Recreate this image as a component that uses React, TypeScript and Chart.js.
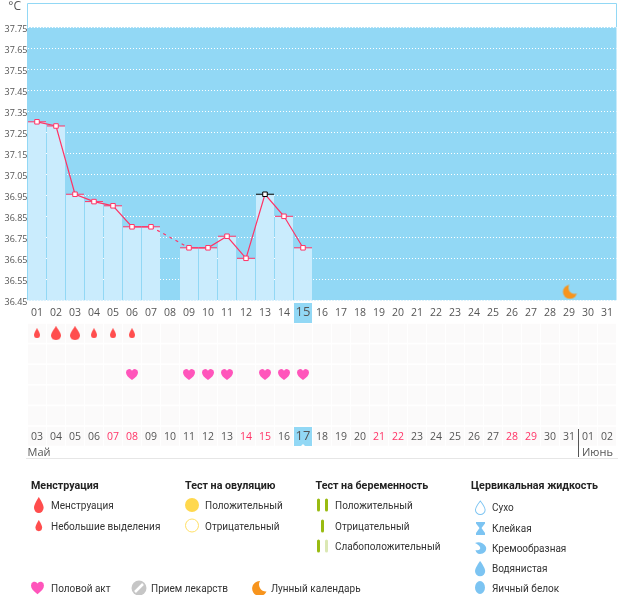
import React, { useEffect, useRef } from "react";
import { Chart, registerables } from "chart.js";

Chart.register(...registerables);

const TOP_DAYS = ["01","02","03","04","05","06","07","08","09","10","11","12","13","14","15","16","17","18","19","20","21","22","23","24","25","26","27","28","29","30","31"];
const BOTTOM_DAYS = ["03","04","05","06","07","08","09","10","11","12","13","14","15","16","17","18","19","20","21","22","23","24","25","26","27","28","29","30","31","01","02"];
const WEEKEND_INDEXES = [4, 5, 11, 12, 18, 19, 25, 26];
const TODAY_INDEX = 14;
const TEMP_TICKS = [37.75,37.65,37.55,37.45,37.35,37.25,37.15,37.05,36.95,36.85,36.75,36.65,36.55,36.45];
const TEMPS: (number | null)[] = [37.3,37.28,36.955,36.92,36.9,36.8,36.8,null,36.7,36.7,36.755,36.65,36.955,36.85,36.7];
const BLACK_MARK_INDEX = 12;
const MOON_INDEX = 28;
const MOON_VALUE = 36.49;
const MENSES_SMALL = [0, 3, 4, 5];
const MENSES_BIG = [1, 2];
const HEARTS = [5, 8, 9, 10, 12, 13, 14];
const ROWS = [4, 3, 2, 1, 0, -1];
const MENSES_ROW = 4.5;
const HEART_ROW = 2.5;
const MONTHS = [{ label: "Май", index: 0 }, { label: "Июнь", index: 29 }];

const TICK_FONT = "'Open Sans'";
const TEXT_FONT = "Roboto";
const GREY = "#555555";
const PINK = "#ff3366";
const BLUE = "#92d8f5";
const DROP = "M6 0C6 0 0 7.2 0 10.5A6 5.5 0 0 0 12 10.5C12 7.2 6 0 6 0Z";
const HEART = "M6 11C2 8 0 6 0 3.4A3.2 3.2 0 0 1 6 1.8A3.2 3.2 0 0 1 12 3.4C12 6 10 8 6 11Z";
const OFFSET = 10;

function iconCanvas(w: number, h: number, draw: (c: CanvasRenderingContext2D) => void) {
  const cv = document.createElement("canvas");
  cv.width = w;
  cv.height = h;
  draw(cv.getContext("2d") as CanvasRenderingContext2D);
  return cv;
}
function dropIcon(w: number, h: number) {
  return iconCanvas(w, h, (c) => {
    c.scale(w / 12, h / 16);
    c.fillStyle = "#ff4d4d";
    c.fill(new Path2D(DROP));
  });
}
function heartIcon() {
  return iconCanvas(12, 11, (c) => {
    c.fillStyle = "#ff55bb";
    c.fill(new Path2D(HEART));
  });
}
function moonIcon() {
  return iconCanvas(17, 15, (c) => {
    c.fillStyle = "#f7941d";
    c.beginPath();
    c.arc(9.5, 7.5, 7, 0, Math.PI * 2);
    c.fill();
    c.globalCompositeOperation = "destination-out";
    c.beginPath();
    c.arc(14, 3.5, 6, 0, Math.PI * 2);
    c.fill();
  });
}

const highlightPlugin = (top: number, bottom: number, index: number) => ({
  id: "highlight",
  afterDatasetsDraw(chart: any) {
    const x = chart.scales.x.getPixelForValue(index);
    chart.ctx.save();
    chart.ctx.fillStyle = BLUE;
    chart.ctx.fillRect(x - 9, top, 18, bottom - top);
    chart.ctx.restore();
  },
});

const frostPlugin = {
  id: "frost",
  beforeDraw(chart: any) {
    const { ctx, scales } = chart;
    const a = scales.y.getPixelForValue(37.75);
    const b = scales.y.getPixelForValue(36.45);
    ctx.save();
    ctx.fillStyle = BLUE;
    ctx.fillRect(27, a, 589.5, b - a);
    ctx.strokeStyle = BLUE;
    ctx.lineWidth = 1;
    ctx.beginPath();
    ctx.moveTo(27.5, a);
    ctx.lineTo(27.5, 3.5 + OFFSET);
    ctx.lineTo(616.5, 3.5 + OFFSET);
    ctx.lineTo(616.5, a);
    ctx.stroke();
    ctx.fillStyle = GREY;
    ctx.font = `12px ${TICK_FONT}`;
    ctx.textAlign = "right";
    ctx.textBaseline = "middle";
    ctx.fillText("°C", 21, 7 + OFFSET);
    ctx.restore();
  },
};

const monthPlugin = {
  id: "months",
  afterDraw(chart: any) {
    const { ctx, scales } = chart;
    ctx.save();
    ctx.font = `11px ${TICK_FONT}`;
    ctx.fillStyle = GREY;
    ctx.textBaseline = "middle";
    MONTHS.forEach((m) => {
      const x = scales.x.getPixelForValue(m.index) - 9.5;
      ctx.fillText(m.label, x + (m.index ? 3.5 : 0), 130 + OFFSET);
      if (m.index) {
        ctx.fillRect(Math.round(x) - 1, 106 + OFFSET, 1, 28);
      }
    });
    ctx.fillStyle = "#e6e6e6";
    ctx.fillRect(26, 135 + OFFSET, 592, 1);
    const tx = scales.x.getPixelForValue(TODAY_INDEX);
    ctx.fillStyle = "#ffffff";
    ctx.beginPath();
    ctx.moveTo(tx - 2, 123 + OFFSET);
    ctx.lineTo(tx + 2, 123 + OFFSET);
    ctx.lineTo(tx, 121 + OFFSET);
    ctx.fill();
    ctx.restore();
  },
};

function tickColor(i: number) {
  return WEEKEND_INDEXES.includes(i) ? PINK : GREY;
}

const noVerticalPadding = (s: any) => {
  s.paddingTop = 0;
  s.paddingBottom = 0;
};

function TempChart() {
  const ref = useRef<HTMLCanvasElement>(null);
  useEffect(() => {
    const chart = new Chart(ref.current as HTMLCanvasElement, {
      type: "bar",
      data: {
        labels: TOP_DAYS,
        datasets: [
          {
            type: "line",
            data: TEMPS,
            order: 1,
            spanGaps: true,
            tension: 0,
            borderColor: PINK,
            borderWidth: 1.2,
            pointStyle: "rect",
            pointRadius: 3.2,
            pointBackgroundColor: "#ffffff",
            pointBorderWidth: 1,
            pointBorderColor: (c: any) => (c.dataIndex === BLACK_MARK_INDEX ? "#000000" : PINK),
            segment: {
              borderDash: (c: any) => (c.p0.skip || c.p1.skip ? [3, 4] : undefined),
            },
          } as any,
          {
            type: "line",
            data: TEMPS,
            order: 2,
            showLine: false,
            pointStyle: "line",
            pointRadius: 9,
            pointBorderWidth: 1,
            pointBorderColor: (c: any) => (c.dataIndex === BLACK_MARK_INDEX ? "#000000" : PINK),
          } as any,
          {
            type: "bar",
            data: TEMPS,
            order: 3,
            backgroundColor: "#caecfd",
            barPercentage: 18 / 19,
            categoryPercentage: 1,
          } as any,
          {
            type: "line",
            data: TOP_DAYS.map((_, i) => (i === MOON_INDEX ? MOON_VALUE : null)),
            order: 0,
            showLine: false,
            pointStyle: moonIcon(),
          } as any,
        ],
      },
      options: {
        responsive: false,
        animation: false,
        events: [],
        devicePixelRatio: 1,
        layout: { padding: { top: 3 + OFFSET, right: 23.5, left: 0, bottom: 0 } },
        plugins: { legend: { display: false }, tooltip: { enabled: false } },
        scales: {
          x: {
            grid: { display: false, drawTicks: false },
            border: { display: false },
            afterFit: (s: any) => { s.height = 22.7; noVerticalPadding(s); },
            ticks: {
              autoSkip: false,
              maxRotation: 0,
              padding: 6,
              z: 1,
              color: GREY,
              font: (c: any) => (c.index === TODAY_INDEX
                ? { family: TICK_FONT, size: 13, lineHeight: 0.97 }
                : { family: TICK_FONT, size: 10.5 }),
            },
          },
          y: {
            min: 36.45,
            max: 37.8657,
            afterBuildTicks: (s: any) => { s.ticks = TEMP_TICKS.map((value) => ({ value })); },
            afterFit: (s: any) => { s.width = 27.5; noVerticalPadding(s); },
            border: { display: false, dash: [1, 2] },
            grid: { color: "#ffffff", drawTicks: false, lineWidth: 1 },
            ticks: {
              padding: 0,
              labelOffset: 2.5,
              color: GREY,
              font: { family: TICK_FONT, size: 9 },
              callback: (v: any) => Number(v).toFixed(2),
            },
          },
        },
      } as any,
      plugins: [frostPlugin, highlightPlugin(303 + OFFSET, 323 + OFFSET, TODAY_INDEX)] as any,
    });
    return () => chart.destroy();
  }, []);
  return <canvas ref={ref} width={640} height={333} style={{ position: "absolute", left: 0, top: -OFFSET, display: "block", width: 640, height: 333 }} />;
}

function SymptomChart() {
  const ref = useRef<HTMLCanvasElement>(null);
  useEffect(() => {
    const small = dropIcon(6, 10);
    const big = dropIcon(10, 14);
    const heart = heartIcon();
    const chart = new Chart(ref.current as HTMLCanvasElement, {
      type: "bar",
      data: {
        labels: BOTTOM_DAYS,
        datasets: [
          {
            type: "line",
            data: BOTTOM_DAYS.map((_, i) => (MENSES_SMALL.includes(i) ? MENSES_ROW : null)),
            showLine: false,
            pointStyle: small,
            order: 0,
          } as any,
          {
            type: "line",
            data: BOTTOM_DAYS.map((_, i) => (MENSES_BIG.includes(i) ? MENSES_ROW : null)),
            showLine: false,
            pointStyle: big,
            order: 0,
          } as any,
          {
            type: "line",
            data: BOTTOM_DAYS.map((_, i) => (HEARTS.includes(i) ? HEART_ROW : null)),
            showLine: false,
            pointStyle: heart,
            order: 0,
          } as any,
          ...ROWS.map((r) => ({
            type: "bar",
            data: BOTTOM_DAYS.map(() => [r + 0.04, r + 0.96]),
            order: 1,
            clip: false,
            grouped: false,
            backgroundColor: "#fbfafa",
            barPercentage: 18 / 19,
            categoryPercentage: 1,
          })) as any,
        ],
      },
      options: {
        responsive: false,
        animation: false,
        events: [],
        devicePixelRatio: 1,
        layout: { padding: { top: OFFSET, right: 23.5, left: 27.5, bottom: 0 } },
        plugins: { legend: { display: false }, tooltip: { enabled: false } },
        scales: {
          x: {
            grid: { display: false, drawTicks: false },
            border: { display: false },
            afterFit: (s: any) => { s.height = 34; noVerticalPadding(s); },
            ticks: {
              autoSkip: false,
              maxRotation: 0,
              padding: 5,
              z: 1,
              color: (c: any) => tickColor(c.index),
              font: (c: any) => (c.index === TODAY_INDEX
                ? { family: TICK_FONT, size: 13, lineHeight: 0.8 }
                : { family: TICK_FONT, size: 10.5 }),
            },
          },
          y: { display: false, min: 0, max: 5, ticks: { display: false }, afterFit: noVerticalPadding },
        },
      } as any,
      plugins: [highlightPlugin(104 + OFFSET, 123 + OFFSET, TODAY_INDEX), monthPlugin] as any,
    });
    return () => chart.destroy();
  }, []);
  return <canvas ref={ref} width={640} height={147} style={{ position: "absolute", left: 0, top: 323 - OFFSET, display: "block", width: 640, height: 147 }} />;
}

type Txt = { x: number; y: number; t: string; b?: boolean };
const LEGEND_TEXTS: Txt[] = [
  { x: 31, y: 486, t: "Менструация", b: true },
  { x: 51, y: 506, t: "Менструация" },
  { x: 51, y: 527, t: "Небольшие выделения" },
  { x: 185, y: 486, t: "Тест на овуляцию", b: true },
  { x: 205, y: 506, t: "Положительный" },
  { x: 205, y: 527, t: "Отрицательный" },
  { x: 315.5, y: 486, t: "Тест на беременность", b: true },
  { x: 335, y: 506, t: "Положительный" },
  { x: 335, y: 527, t: "Отрицательный" },
  { x: 335, y: 547, t: "Слабоположительный" },
  { x: 471, y: 486, t: "Цервикальная жидкость", b: true },
  { x: 492, y: 508, t: "Сухо" },
  { x: 492, y: 529, t: "Клейкая" },
  { x: 492, y: 549, t: "Кремообразная" },
  { x: 492, y: 569, t: "Водянистая" },
  { x: 492, y: 589, t: "Яичный белок" },
  { x: 51, y: 589, t: "Половой акт" },
  { x: 151, y: 589, t: "Прием лекарств" },
  { x: 271, y: 589, t: "Лунный календарь" },
];

function LegendIcons() {
  const LB = "#7cc4f2";
  return (
    <svg width={626} height={595} style={{ position: "absolute", left: 0, top: 0 }}>
      <path d={DROP} fill="#ff4d4d" transform="translate(34,497) scale(0.8,1)" />
      <path d={DROP} fill="#ff4d4d" transform="translate(35.5,520) scale(0.55,0.7)" />
      <circle cx={192} cy={505} r={7} fill="#ffd84d" />
      <circle cx={192} cy={525.5} r={6.5} fill="#fff" stroke="#ffdf66" strokeWidth={1} />
      <rect x={317} y={498.5} width={3} height={13} rx={1.5} fill="#99bb11" />
      <rect x={325} y={498.5} width={3} height={13} rx={1.5} fill="#99bb11" />
      <rect x={321} y={519.5} width={3} height={13} rx={1.5} fill="#99bb11" />
      <rect x={317} y={539.5} width={3} height={13} rx={1.5} fill="#99bb11" />
      <rect x={325} y={539.5} width={3} height={13} rx={1.5} fill="#dbe8b4" />
      <path d={DROP} fill="#fff" stroke={LB} strokeWidth={1.2} transform="translate(475.5,501) scale(0.8,0.85)" />
      <path d="M476 522H485V523.5L481.5 528L485 533V535H476V533L479.5 528L476 523.5Z" fill={LB} />
      <path d="M475 543C479 541 484 543 486 547C487 551 484 554 480 554C477 554 476 552 475.5 550C479 551 481 549 480 547C479 545 477 544 475 543Z" fill={LB} />
      <path d={DROP} fill={LB} transform="translate(475,561) scale(0.85,0.95)" />
      <ellipse cx={480} cy={587.5} rx={5} ry={6.5} fill={LB} />
      <path d={HEART} fill="#ff55bb" transform="translate(31,581.5) scale(1.08,1.15)" />
      <circle cx={139} cy={588} r={7.5} fill="#c6c6c6" />
      <path d="M135 592L143 584" stroke="#fff" strokeWidth={2.5} />
      <path d="M260 581A7.5 7.5 0 1 0 266.5 591.5A7 7 0 0 1 260 581Z" fill="#f7941d" />
    </svg>
  );
}

export default function App() {
  return (
    <div style={{ position: "absolute", left: 0, top: 0, width: 626, height: 595, overflow: "hidden", background: "#fff" }}>
      <TempChart />
      <SymptomChart />
      <LegendIcons />
      {LEGEND_TEXTS.map((l, i) => (
        <span
          key={i}
          style={{
            position: "absolute",
            left: l.x,
            top: l.y - 9,
            height: 18,
            lineHeight: "18px",
            whiteSpace: "nowrap",
            fontFamily: TEXT_FONT,
            fontSize: l.b ? 10.7 : 10,
            fontWeight: l.b ? 700 : 400,
            color: l.b ? "#222" : "#333",
          }}
        >
          {l.t}
        </span>
      ))}
    </div>
  );
}
